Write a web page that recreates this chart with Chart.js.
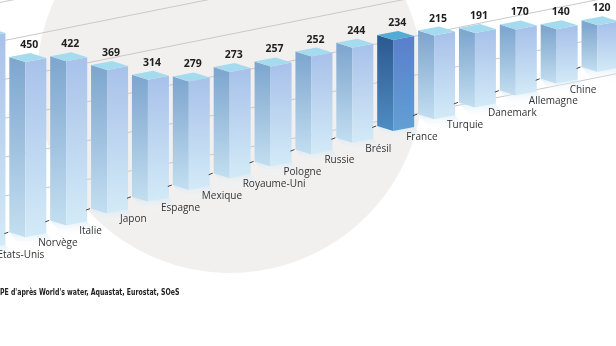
<!DOCTYPE html>
<html>
<head>
<meta charset="utf-8">
<script src="https://cdn.jsdelivr.net/npm/chart.js@4.4.1/dist/chart.umd.min.js"></script>
<style>
  html, body { margin: 0; padding: 0; width: 616px; height: 346px; overflow: hidden; background: #fff; position: relative; }
  #disc { position: absolute; left: 37px; top: -113px; width: 386px; height: 386px; border-radius: 50%; background: #f1f0ef; }
  #wrap { position: absolute; left: -36px; top: 0; width: 654px; height: 346px; }
  #source { position: absolute; left: 0; top: 288px; font: bold 8px 'Liberation Sans Narrow', 'DejaVu Sans Condensed', sans-serif; color: #222; white-space: nowrap; transform: scaleX(0.86); transform-origin: 0 0; }
</style>
</head>
<body>
<div id="disc"></div>
<div id="wrap"><canvas id="grafico" width="654" height="346"></canvas></div>
<div id="source">PE d'après World's water, Aquastat, Eurostat, SOeS</div>
<script>
'use strict';

// Données
const categories = ['Etats-Unis', 'Norvège', 'Italie', 'Japon', 'Espagne', 'Mexique', 'Royaume-Uni', 'Pologne',
  'Russie', 'Brésil', 'France', 'Turquie', 'Danemark', 'Allemagne', 'Chine', ''];
const values = [545, 450, 422, 369, 314, 279, 273, 257, 252, 244, 234, 215, 191, 170, 140, 120];
const gridValues = [100, 200, 300, 400, 500, 600];
const highlight = 'France';

// 3D look
const STEP = 11.8;          // baseline rises this much per bar (perspective)
const LW = 16, LD = 5;      // left face width / drop
const RW = 21, RD = 4;      // right face width / rise
const GRID_SLOPE = -0.2;    // back wall lines, flatter than the floor

function vgrad(ctx, top, bottom, c1, c2) {
  const g = ctx.createLinearGradient(0, top, 0, bottom);
  g.addColorStop(0, c1);
  g.addColorStop(1, c2);
  return g;
}

function poly(ctx, pts, fill) {
  ctx.beginPath();
  ctx.moveTo(pts[0][0], pts[0][1]);
  for (let k = 1; k < pts.length; k++) ctx.lineTo(pts[k][0], pts[k][1]);
  ctx.closePath();
  ctx.fillStyle = fill;
  ctx.fill();
}

const box3d = {
  id: 'box3d',
  beforeDatasetsDraw(chart) {
    const ctx = chart.ctx, xs = chart.scales.x, ys = chart.scales.y;
    const x0 = xs.getPixelForValue(0) + 15;
    ctx.save();
    ctx.strokeStyle = '#c9c9c9';
    ctx.lineWidth = 1;
    gridValues.forEach(v => {
      const y0 = ys.getPixelForValue(v) - 13;
      ctx.beginPath();
      ctx.moveTo(x0 - 40, y0 - GRID_SLOPE * 40);
      ctx.lineTo(x0 + 900, y0 + GRID_SLOPE * 900);
      ctx.stroke();
    });
    ctx.restore();
  },
  afterDatasetsDraw(chart) {
    const ctx = chart.ctx;
    const meta = chart.getDatasetMeta(0);
    ctx.save();
    meta.data.forEach((el, i) => {
      const fx = el.x;
      const by = el.base - STEP * i;
      const ty = el.y - STEP * i;
      const hi = categories[i] === highlight;

      // reflet au sol
      poly(ctx, [[fx - LW, by - LD], [fx, by], [fx + RW, by - RD], [fx + RW + 10, by - RD + 12], [fx + 10, by + 12], [fx - LW + 10, by - LD + 12]],
        vgrad(ctx, by - LD, by + 12, 'rgba(205,228,242,0.55)', 'rgba(255,255,255,0)'));

      // face gauche
      poly(ctx, [[fx - LW, ty - LD], [fx, ty], [fx, by], [fx - LW, by - LD]],
        hi ? vgrad(ctx, ty, by, '#2d5b92', '#4f8dc2') : vgrad(ctx, ty, by, '#7fa7cf', '#c3def0'));
      // face droite
      poly(ctx, [[fx, ty], [fx + RW, ty - RD], [fx + RW, by - RD], [fx, by]],
        hi ? vgrad(ctx, ty, by, '#5a80cc', '#62a0d3') : vgrad(ctx, ty, by, '#a9c2ea', '#d3ebf7'));
      // dessus
      poly(ctx, [[fx - LW, ty - LD], [fx + RW - LW, ty - LD - RD], [fx + RW, ty - RD], [fx, ty]],
        hi ? '#52acd3' : '#a5dbee');

      // tiret d'axe
      ctx.strokeStyle = '#444';
      ctx.lineWidth = 1;
      ctx.beginPath();
      ctx.moveTo(fx - LW - 5, by - LD + 1.5);
      ctx.lineTo(fx - LW - 1, by - LD);
      ctx.stroke();

      // valeur
      ctx.fillStyle = '#1e1e1e';
      ctx.font = "bold 10.5px 'Open Sans', sans-serif";
      ctx.textAlign = 'center';
      ctx.textBaseline = 'middle';
      ctx.fillText(String(values[i]), fx + 4, ty - 17);

      // pays
      ctx.fillStyle = '#333';
      ctx.font = "10px 'Open Sans', sans-serif";
      ctx.textAlign = 'left';
      ctx.fillText(categories[i], fx + 13, by + 6);
    });
    ctx.restore();
  }
};

const ctx = document.getElementById('grafico').getContext('2d');
new Chart(ctx, {
  type: 'bar',
  data: {
    labels: categories,
    datasets: [{
      data: values,
      backgroundColor: 'transparent',
      borderWidth: 0
    }]
  },
  options: {
    responsive: false,
    animation: false,
    devicePixelRatio: 1,
    layout: { padding: { top: 0, bottom: 97, left: 0, right: 0 } },
    plugins: { legend: { display: false }, tooltip: { enabled: false } },
    scales: {
      x: { display: false, offset: true },
      y: { display: false, min: 0, max: 640 }
    }
  },
  plugins: [box3d]
});
</script>
</body>
</html>
